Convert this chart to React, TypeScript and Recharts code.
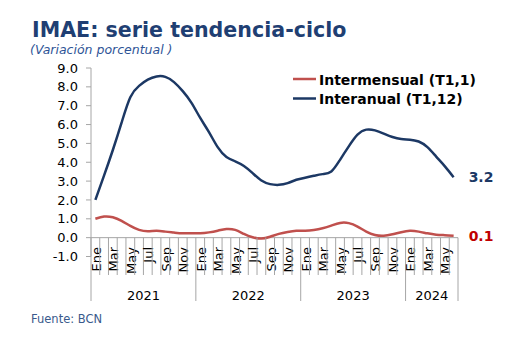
import { LineChart, Line, XAxis, YAxis, ReferenceLine, Legend } from 'recharts';

// Meses y años del eje horizontal
const meses = ['Ene', 'Feb', 'Mar', 'Abr', 'May', 'Jun', 'Jul', 'Ago', 'Sep', 'Oct', 'Nov', 'Dic'];
const anios = ['2021', '2022', '2023', '2024'];
const mesesPorAnio = [12, 12, 12, 6];

// Variación interanual (T1,12)
const interanual = [
  2.0, 3.3, 4.65, 6.1, 7.45, 8.05, 8.38, 8.55, 8.53, 8.25, 7.77, 7.15,
  6.35, 5.6, 4.8, 4.28, 4.05, 3.8, 3.42, 3.03, 2.84, 2.8, 2.89, 3.07,
  3.18, 3.28, 3.37, 3.51, 4.13, 4.84, 5.46, 5.73, 5.69, 5.52, 5.34, 5.23,
  5.2, 5.1, 4.8, 4.3, 3.78, 3.2,
];

// Variación intermensual (T1,1)
const intermensual = [
  1.0, 1.12, 1.08, 0.89, 0.62, 0.41, 0.34, 0.36, 0.32, 0.27, 0.23, 0.23,
  0.23, 0.28, 0.37, 0.46, 0.41, 0.2, 0.02, -0.05, 0.05, 0.2, 0.3, 0.36,
  0.37, 0.41, 0.5, 0.64, 0.78, 0.77, 0.59, 0.32, 0.14, 0.1, 0.18, 0.29,
  0.36, 0.32, 0.23, 0.16, 0.13, 0.1,
];

const yTicks = [-1, 0, 1, 2, 3, 4, 5, 6, 7, 8, 9];
const ordenLeyenda = ['intermensual', 'interanual'];

const periodos = anios.flatMap((a, ai) =>
  meses.slice(0, mesesPorAnio[ai]).map((m, mi) => ({ anio: a, mes: m, mi, n: mesesPorAnio[ai] }))
);

const data = periodos.map((p, i) => ({
  periodo: `${p.mes} ${p.anio}`,
  interanual: interanual[i],
  intermensual: intermensual[i],
}));

const W = 522;
const H = 359;
const M = { top: 68, right: 64, bottom: 0, left: 0 };
const Y_AXIS_W = 91;
const X_AXIS_H = 102.5;
const PLOT_W = W - M.left - M.right - Y_AXIS_W;
const PLOT_H = H - M.top - M.bottom - X_AXIS_H;
const BW = PLOT_W / periodos.length;
const Y0 = M.top + (PLOT_H * 9) / 10; // línea del cero
const LAST = data.length - 1;

const NAVY = '#1c3864';
const RED = '#c0504d';
const GRID = '#a6a6a6';

function XTick(props: any) {
  const { x, index } = props;
  const p = periodos[index];
  const left = x - BW / 2;
  return (
    <g>
      <line x1={left} x2={left} y1={Y0} y2={p.mi === 0 ? 301 : 275} stroke={GRID} strokeWidth={1} />
      {index === LAST && <line x1={x + BW / 2} x2={x + BW / 2} y1={Y0} y2={301} stroke={GRID} strokeWidth={1} />}
      {index % 2 === 0 && (
        <text
          transform={`translate(${x + 5.5},${247}) rotate(-90)`}
          textAnchor="end"
          fontSize={13}
          fill="#000"
        >
          {p.mes}
        </text>
      )}
      {p.mi === Math.floor(p.n / 2) && (
        <text x={left} y={300} textAnchor="middle" fontSize={13} fill="#000">
          {p.anio}
        </text>
      )}
    </g>
  );
}

const endLabel = (color: string) => (props: any) => {
  const { x, y, index, value } = props;
  if (index !== LAST) return null;
  return (
    <text x={x + 15} y={y + 5} fill={color} fontSize={14} fontWeight="bold">
      {Number(value).toFixed(1)}
    </text>
  );
};

function LegendBox({ payload }: any) {
  const items = [...(payload || [])].sort(
    (a: any, b: any) => ordenLeyenda.indexOf(a.dataKey) - ordenLeyenda.indexOf(b.dataKey)
  );
  return (
    <svg width={230} height={45}>
      {items.map((e: any, i: number) => (
        <g key={e.value}>
          <line x1={5} x2={28} y1={11 + i * 19.5} y2={11 + i * 19.5} stroke={e.color} strokeWidth={2.5} />
          <text x={31} y={16.5 + i * 19.5} fontSize={14} fontWeight="bold" fill="#000">
            {e.value}
          </text>
        </g>
      ))}
    </svg>
  );
}

export default function App() {
  return (
    <div
      style={{
        position: 'absolute',
        left: 0,
        top: 0,
        width: W,
        height: H,
        background: '#fff',
        fontFamily: '"DejaVu Sans", Verdana, sans-serif',
      }}
    >
      <LineChart width={W} height={H} data={data} margin={M}>
        <YAxis
          domain={[-1, 9]}
          ticks={yTicks}
          interval={0}
          width={Y_AXIS_W}
          tickFormatter={(v: number) => v.toFixed(1)}
          tick={{ fill: '#000', fontSize: 13 }}
          tickSize={5}
          tickMargin={8}
          axisLine={{ stroke: GRID }}
          tickLine={{ stroke: GRID }}
        />
        <XAxis
          dataKey="periodo"
          interval={0}
          height={X_AXIS_H}
          padding={{ left: BW / 2, right: BW / 2 }}
          axisLine={false}
          tickLine={false}
          tick={<XTick />}
        />
        <ReferenceLine y={0} stroke={GRID} strokeWidth={1} />
        <Legend
          verticalAlign="middle"
          align="center"
          content={<LegendBox />}
          wrapperStyle={{ top: 68, left: 288, width: 230, height: 45 }}
        />
        <Line
          name="Intermensual (T1,1)"
          dataKey="intermensual"
          type="natural"
          stroke={RED}
          strokeWidth={2.5}
          dot={false}
          isAnimationActive={false}
          label={endLabel('#c00000')}
        />
        <Line
          name="Interanual (T1,12)"
          dataKey="interanual"
          type="natural"
          stroke={NAVY}
          strokeWidth={2.5}
          dot={false}
          isAnimationActive={false}
          label={endLabel(NAVY)}
        />
      </LineChart>
      <svg
        width={W}
        height={H}
        style={{ position: 'absolute', left: 0, top: 0, pointerEvents: 'none' }}
      >
        <text x={32} y={36.5} fontSize={20.6} fontWeight="bold" fill="#1f3f73">
          IMAE: serie tendencia-ciclo
        </text>
        <text x={30} y={54} fontSize={12.5} fontStyle="italic" fill="#2e5496">
          (Variación porcentual )
        </text>
        <text x={31} y={322.5} fontSize={11.5} fill="#3a5a8c">
          Fuente: BCN
        </text>
      </svg>
    </div>
  );
}
